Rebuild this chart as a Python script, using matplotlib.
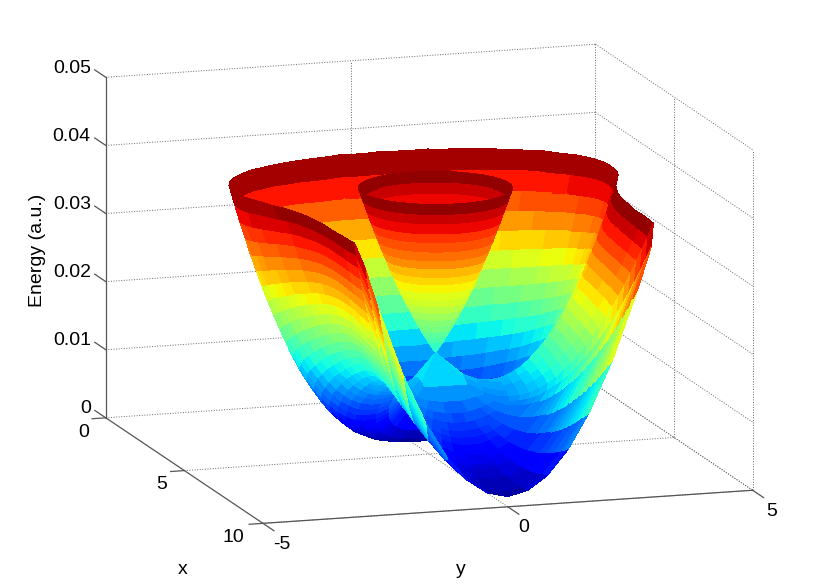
import numpy as np
import matplotlib
matplotlib.use('Agg')
import matplotlib.pyplot as plt
from mpl_toolkits.mplot3d import proj3d

plt.rcParams['font.family'] = ['Liberation Sans', 'DejaVu Sans']

x_ticks = [0, 5, 10]
y_ticks = [-5, 0, 5]
z_ticks = [0, 0.01, 0.02, 0.03, 0.04, 0.05]
z_tick_labels = ['0', '0.01', '0.02', '0.03', '0.04', '0.05']

# crossing point of the two sheets
tip_x = 5.4
tip_energy = 155

# upper sheet: energy (1e-4 a.u.) against distance from the tip
cone_radius = [0, 0.075, 0.15, 0.225, 0.3, 0.375, 0.45, 0.525, 0.6, 0.675, 0.75,
               0.825, 0.9, 0.975, 1.05, 1.125, 1.2, 1.275, 1.35, 1.425, 1.5]
cone_energy = [155, 163, 172, 181, 190, 200, 210, 221, 232, 243, 255,
               268, 280, 294, 307, 321, 336, 350, 366, 381, 397]

# lower sheet, estimated from the picture and written out for y >= 0 only
# one row per direction from the tip (0 deg = towards x=10), rings run from the tip to the rim
ray_deg = [0, 5, 10, 15, 20, 25, 30, 32.4, 35, 40, 45, 50, 55, 60, 65, 70, 75, 80, 85,
           90, 95, 100, 105, 110, 115, 120, 125, 130, 135, 140, 145, 150, 155, 160, 165, 170, 175, 180]
ray_length = [4.60, 4.62, 4.67, 4.76, 4.89, 5.07, 5.31, 5.46, 5.32, 4.79, 4.37, 4.06, 3.83, 3.67, 3.57, 3.52, 3.51, 3.55, 3.63,
              3.73, 3.83, 3.91, 3.98, 4.02, 4.03, 4.01, 3.97, 3.92, 3.85, 3.78, 3.70, 3.63, 3.57, 3.51, 3.46, 3.43, 3.41, 3.40]
lower_energy = [
    [116, 99, 86, 76, 67, 61, 53, 49, 43, 38, 35, 31, 28, 26, 23, 22, 20, 19, 17, 17, 16, 15, 15, 15],
    [116, 99, 86, 76, 68, 61, 54, 49, 44, 40, 37, 34, 31, 29, 27, 25, 24, 23, 22, 22, 21, 21, 21, 22],
    [116, 99, 87, 78, 70, 64, 58, 54, 50, 47, 44, 42, 40, 39, 38, 38, 37, 37, 37, 38, 39, 40, 41, 42],
    [116, 100, 89, 80, 74, 69, 65, 62, 59, 58, 57, 56, 56, 57, 57, 58, 60, 62, 64, 66, 69, 71, 74, 78],
    [116, 101, 91, 85, 80, 77, 75, 74, 74, 74, 76, 77, 80, 83, 86, 90, 94, 98, 103, 108, 113, 119, 124, 131],
    [116, 103, 95, 90, 88, 88, 89, 91, 94, 98, 102, 107, 113, 119, 126, 134, 141, 149, 158, 166, 175, 185, 195, 205],
    [116, 105, 100, 98, 100, 103, 108, 114, 121, 129, 138, 148, 158, 169, 181, 193, 206, 219, 232, 246, 261, 275, 291, 306],
    [116, 106, 103, 103, 107, 112, 119, 128, 138, 148, 160, 172, 186, 199, 214, 229, 245, 261, 277, 295, 312, 330, 348, 367],
    [117, 108, 106, 108, 113, 119, 128, 137, 148, 160, 173, 187, 202, 217, 233, 249, 266, 283, 301, 320, 339, 358, 378, 398],
    [121, 113, 112, 114, 119, 126, 134, 144, 155, 167, 180, 193, 207, 222, 237, 253, 270, 287, 304, 322, 341, 359, 378, 398],
    [123, 116, 115, 118, 123, 130, 139, 148, 159, 171, 184, 197, 211, 226, 241, 256, 273, 289, 306, 324, 342, 360, 379, 397],
    [124, 118, 118, 121, 126, 133, 141, 151, 162, 174, 186, 199, 213, 228, 243, 258, 274, 291, 308, 325, 343, 361, 379, 398],
    [125, 119, 119, 122, 127, 134, 142, 152, 163, 175, 187, 200, 214, 228, 243, 259, 275, 291, 308, 325, 343, 361, 379, 398],
    [125, 119, 119, 121, 127, 134, 142, 152, 162, 174, 186, 200, 213, 228, 243, 258, 274, 291, 308, 325, 343, 361, 379, 398],
    [124, 118, 117, 120, 125, 132, 140, 150, 161, 172, 185, 198, 212, 226, 241, 257, 273, 290, 307, 324, 342, 360, 379, 398],
    [123, 116, 115, 117, 122, 129, 137, 147, 158, 169, 182, 195, 209, 224, 239, 255, 271, 288, 305, 323, 341, 360, 379, 398],
    [121, 113, 111, 113, 118, 124, 133, 142, 153, 165, 177, 191, 205, 220, 235, 252, 268, 285, 303, 321, 340, 359, 378, 398],
    [118, 109, 106, 108, 112, 118, 127, 136, 147, 159, 172, 185, 200, 215, 231, 247, 264, 282, 300, 319, 338, 357, 377, 397],
    [114, 103, 100, 101, 105, 111, 119, 129, 139, 151, 165, 179, 193, 209, 225, 242, 260, 278, 297, 316, 336, 356, 377, 398],
    [109, 97, 93, 93, 96, 102, 110, 120, 131, 143, 156, 170, 186, 202, 219, 236, 254, 273, 293, 313, 333, 354, 376, 398],
    [104, 90, 84, 84, 87, 92, 100, 109, 120, 133, 146, 161, 177, 193, 211, 229, 248, 268, 288, 309, 330, 352, 374, 397],
    [99, 83, 76, 74, 76, 82, 89, 99, 110, 123, 137, 152, 168, 185, 203, 222, 242, 262, 283, 305, 327, 350, 373, 397],
    [94, 75, 67, 65, 66, 71, 79, 88, 99, 112, 127, 142, 159, 177, 195, 215, 235, 256, 278, 301, 324, 348, 373, 398],
    [88, 68, 58, 55, 56, 61, 68, 78, 89, 102, 117, 133, 150, 168, 188, 208, 229, 251, 274, 297, 322, 346, 372, 398],
    [83, 61, 50, 46, 47, 52, 59, 68, 80, 93, 108, 124, 142, 161, 181, 201, 223, 246, 269, 294, 319, 344, 371, 398],
    [79, 55, 43, 39, 39, 43, 50, 60, 71, 85, 100, 117, 135, 154, 174, 196, 218, 242, 266, 291, 316, 343, 370, 398],
    [75, 50, 37, 32, 32, 36, 43, 52, 64, 78, 93, 110, 128, 148, 169, 191, 214, 238, 262, 288, 314, 341, 369, 397],
    [72, 45, 32, 26, 26, 29, 36, 46, 58, 72, 87, 105, 123, 143, 165, 187, 210, 235, 260, 286, 313, 340, 369, 398],
    [69, 41, 27, 21, 21, 24, 31, 41, 53, 67, 82, 100, 119, 139, 161, 183, 207, 232, 257, 284, 311, 339, 368, 397],
    [67, 38, 24, 17, 17, 20, 27, 36, 48, 63, 79, 96, 115, 136, 158, 181, 205, 230, 255, 282, 310, 338, 368, 397],
    [65, 36, 21, 14, 13, 17, 23, 33, 45, 59, 75, 93, 112, 133, 155, 178, 202, 228, 254, 281, 309, 338, 367, 397],
    [64, 34, 19, 12, 11, 14, 21, 30, 42, 57, 73, 91, 110, 131, 153, 176, 201, 226, 252, 280, 308, 337, 367, 397],
    [63, 33, 17, 10, 9, 12, 19, 28, 40, 54, 71, 89, 108, 129, 151, 175, 199, 225, 251, 279, 307, 336, 366, 397],
    [62, 32, 16, 9, 7, 10, 17, 26, 38, 53, 69, 87, 106, 127, 150, 173, 198, 224, 250, 278, 307, 336, 366, 397],
    [62, 31, 15, 8, 6, 9, 16, 25, 37, 52, 68, 86, 105, 127, 149, 173, 197, 223, 250, 278, 307, 336, 367, 398],
    [61, 31, 15, 7, 6, 8, 15, 24, 36, 51, 67, 85, 104, 125, 148, 171, 196, 222, 249, 277, 306, 335, 366, 397],
    [61, 31, 14, 7, 5, 8, 14, 24, 36, 50, 66, 84, 104, 125, 147, 171, 196, 222, 249, 277, 306, 335, 366, 397],
    [61, 30, 14, 7, 5, 8, 14, 24, 36, 50, 66, 84, 104, 125, 147, 171, 196, 222, 249, 277, 306, 335, 366, 398],
]

# mesh of the lower sheet, mirrored to y < 0
rays = np.radians(ray_deg)
rings = (np.arange(25) / 24.0) ** 0.6
dist = np.outer(ray_length, rings)
X = tip_x + dist * np.cos(rays)[:, None]
Y = dist * np.sin(rays)[:, None]
Z = np.hstack([np.full((len(rays), 1), tip_energy), np.array(lower_energy)]) * 1e-4
Xa = np.vstack([X[:0:-1], X])
Ya = np.vstack([-Y[:0:-1], Y])
Za = np.vstack([Z[:0:-1], Z])
n = len(rays) - 1
i90 = ray_deg.index(90)

fig = plt.figure(figsize=(8.3, 5.88), dpi=100)
ax = fig.add_axes([3/830, -122/588, 1, 830/588], projection='3d', computed_zorder=False)
ax.set_proj_type('ortho')
ax.view_init(elev=12.3, azim=-17.6)
ax.set_box_aspect((519, 513, 348), zoom=1.3367*588/830)
ax.set_xlim(0, 10, view_margin=0)
ax.set_ylim(-5, 5, view_margin=0)
ax.set_zlim(0, 0.05, view_margin=0)
ax.set_axis_off()

def ln(a, b, **k):
    ax.plot([a[0], b[0]], [a[1], b[1]], [a[2], b[2]], **k)

# dotted box and grid behind the surface
dots = dict(color='#666666', lw=0.7, ls=':', zorder=1)
for z in z_ticks:
    ln((0, -5, z), (0, 5, z), **dots)
    ln((0, 5, z), (10, 5, z), **dots)
for y in y_ticks:
    ln((0, y, 0), (0, y, 0.05), **dots)
    if y > -5:
        ln((0, y, 0), (10, y, 0), **dots)
for x in x_ticks[1:]:
    ln((x, 5, 0), (x, 5, 0.05), **dots)
    ln((x, -5, 0), (x, 5, 0), **dots)

# painted back to front: far half of the lower sheet, cone, near half
kw = dict(rstride=1, cstride=1, cmap=plt.get_cmap('jet', 64), vmin=0, vmax=0.04,
          linewidth=0.4, antialiased=False, edgecolor='none', shade=False)
back_a = slice(n + i90, 2*n + 1)
back_b = slice(0, n - i90 + 1)
front = slice(n - i90, n + i90 + 1)
ax.plot_surface(Xa[back_a], Ya[back_a], Za[back_a], zorder=2, **kw)
ax.plot_surface(Xa[back_b], Ya[back_b], Za[back_b], zorder=3, **kw)

turn = np.radians(np.arange(0, 361, 5))
CX = tip_x + np.outer(np.cos(turn), cone_radius)
CY = np.outer(np.sin(turn), cone_radius)
CZ = np.tile(np.array(cone_energy) * 1e-4, (len(turn), 1))
ax.plot_surface(CX, CY, CZ, zorder=4, **kw)
ax.plot_surface(Xa[front], Ya[front], Za[front], zorder=5, **kw)

# axes and ticks
ink = dict(color='#555555', lw=0.9, zorder=6)
ln((0, -5, 0), (10, -5, 0), **ink)
ln((10, -5, 0), (10, 5, 0), **ink)
ln((0, -5, 0), (0, -5, 0.05), **ink)
for z in z_ticks:
    ln((0, -5, z), (-0.7, -5, z), **ink)
for x in x_ticks:
    ln((x, -5, 0), (x, -5.28, 0), **ink)
for y in y_ticks:
    ln((10, y, 0), (10.7, y, 0), **ink)

def label(p, dx, dy, s, ha='center'):
    xp, yp, _ = proj3d.proj_transform(p[0], p[1], p[2], ax.get_proj())
    ax.annotate(s, (xp, yp), xytext=(dx, dy), textcoords='offset pixels', ha=ha, va='center', fontsize=14, zorder=7)

for z, s in zip(z_ticks, z_tick_labels):
    label((0, -5, z), -15, 9, s, ha='right')
for x, off in zip(x_ticks, [(-22, -15), (-23, -14), (-30, -14)]):
    label((x, -5, 0), off[0], off[1], str(x))
for y, off in zip(y_ticks, [(19, -21), (16, -21), (19, -21)]):
    label((10, y, 0), off[0], off[1], str(y))

fig.text(183/830, 1 - 570/588, 'x', ha='center', va='center', fontsize=14)
fig.text(461/830, 1 - 570/588, 'y', ha='center', va='center', fontsize=14)
fig.text(38/830, 1 - 250/588, 'Energy (a.u.)', rotation=90, ha='center', va='center', fontsize=14)
fig.savefig('out.png', dpi=100)
